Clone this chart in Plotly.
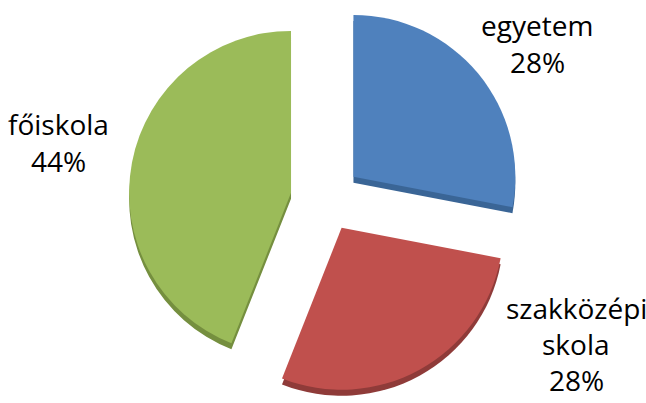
import plotly.graph_objects as go

# Share of respondents by highest level of education
labels = ["egyetem", "szakközépi skola", "főiskola"]
values = [28, 28, 44]

top_colors = ["#4F81BD", "#C0504D", "#9BBB59"]
side_colors = ["#3A6596", "#8F3B39", "#758F3F"]
pulls = [0.22, 0.20, 0.22]

W, H = 646, 403
depth = 6          # pixel thickness of the slice sides
pie_top, pie_h = 2, 395
cx0, cx1 = 6, 646

def ydom(top_px):
    return [1 - (top_px + pie_h) / H, 1 - top_px / H]

common = dict(
    labels=labels, values=values, sort=False, direction="clockwise",
    rotation=0, pull=pulls, textinfo="none", hoverinfo="skip",
    showlegend=False,
)

fig = go.Figure()
# darker copy shifted down gives the slices some thickness
fig.add_trace(go.Pie(
    **common,
    marker=dict(colors=side_colors, line=dict(width=0)),
    domain=dict(x=[cx0 / W, cx1 / W], y=ydom(pie_top + depth)),
))
fig.add_trace(go.Pie(
    **common,
    marker=dict(colors=top_colors, line=dict(width=0)),
    domain=dict(x=[cx0 / W, cx1 / W], y=ydom(pie_top)),
))

# label positions (pixel centre of the first line) and line spacing
label_pos = {
    "egyetem": (537, 25),
    "szakközépi skola": (576, 308),
    "főiskola": (58, 124),
}
line_gap = 37
total = sum(values)
for lab, val in zip(labels, values):
    lines = lab.split(" ") + [f"{round(100 * val / total)}%"]
    x0, y0 = label_pos[lab]
    gap = 36 if len(lines) > 2 else line_gap
    for i, line in enumerate(lines):
        fig.add_annotation(
            x=x0 / W, y=1 - (y0 + i * gap) / H,
            xref="paper", yref="paper", xanchor="center", yanchor="middle",
            text=line, showarrow=False,
            font=dict(family="Open Sans", size=28, color="#000000"),
        )

fig.update_layout(
    width=W, height=H,
    margin=dict(l=0, r=0, t=0, b=0),
    paper_bgcolor="white", plot_bgcolor="white",
)

fig.write_html("out.html")
